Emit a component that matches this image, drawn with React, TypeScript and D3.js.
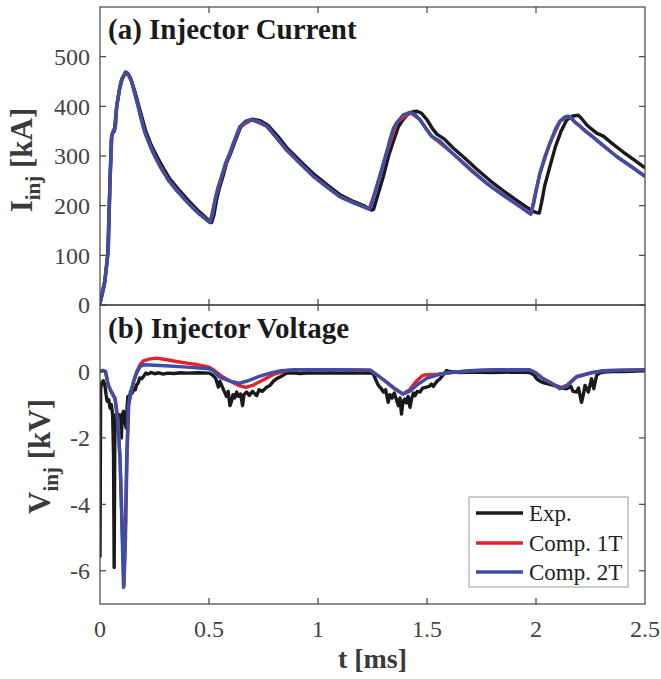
import React from "react";
import * as d3 from "d3";

type P = [number, number];

// ---- Data (t in ms) ----
const xTicks = [0, 0.5, 1, 1.5, 2, 2.5];
const currentTicks = [0, 100, 200, 300, 400, 500];
const voltageTicks = [-6, -4, -2, 0];
const legendLabels = ["Exp.", "Comp. 1T", "Comp. 2T"];
const seriesColors = ["#1a1a1a", "#e8202a", "#3a50a8"];

const expCurrent: P[] = [[0,3],[0.02,40],[0.035,100],[0.045,240],[0.052,335],[0.056,345],[0.066,350],[0.075,395],[0.09,437],[0.1,455],[0.117,469],[0.128,466],[0.14,457],[0.16,430],[0.18,398],[0.195,374],[0.21,350],[0.235,322],[0.26,300],[0.29,276],[0.32,254],[0.36,233],[0.4,213],[0.43,199],[0.46,186],[0.49,174],[0.512,166],[0.522,180],[0.535,212],[0.548,236],[0.565,260],[0.58,285],[0.6,306],[0.62,330],[0.645,358],[0.67,370],[0.7,374],[0.735,371],[0.77,362],[0.815,340],[0.86,315],[0.925,287],[0.985,262],[1.045,241],[1.105,221],[1.165,208],[1.215,199],[1.245,191],[1.255,193],[1.27,215],[1.3,259],[1.325,302],[1.35,335],[1.368,358],[1.385,370],[1.41,383],[1.435,389],[1.455,390],[1.475,386],[1.5,373],[1.525,355],[1.545,344],[1.58,334],[1.62,316],[1.67,297],[1.73,273],[1.79,250],[1.85,230],[1.9,214],[1.95,199],[1.99,188],[2.003,186],[2.015,185],[2.025,205],[2.04,240],[2.064,279],[2.09,320],[2.115,350],[2.14,372],[2.165,380],[2.194,382],[2.21,375],[2.232,363],[2.25,356],[2.278,346],[2.309,340],[2.35,325],[2.4,308],[2.45,292],[2.5,276]];

const comp2Current: P[] = [[0,4],[0.023,50],[0.038,110],[0.046,250],[0.054,340],[0.062,352],[0.07,356],[0.077,400],[0.09,435],[0.1,453],[0.118,468],[0.132,462],[0.145,450],[0.16,425],[0.176,398],[0.19,372],[0.206,347],[0.23,320],[0.252,299],[0.28,275],[0.313,252],[0.35,231],[0.39,212],[0.42,198],[0.451,185],[0.48,175],[0.505,166],[0.515,180],[0.528,212],[0.54,235],[0.558,259],[0.575,285],[0.595,305],[0.615,330],[0.642,359],[0.665,369],[0.696,373],[0.73,369],[0.765,360],[0.81,337],[0.856,312],[0.92,284],[0.979,259],[1.04,238],[1.1,218],[1.16,206],[1.208,198],[1.235,193],[1.245,200],[1.26,225],[1.284,259],[1.31,300],[1.33,333],[1.345,355],[1.361,367],[1.391,383],[1.422,388],[1.445,384],[1.468,373],[1.495,355],[1.521,340],[1.56,330],[1.6,312],[1.651,292],[1.71,268],[1.774,245],[1.835,225],[1.88,212],[1.93,197],[1.976,183],[1.99,205],[2.0,230],[2.018,265],[2.04,298],[2.064,326],[2.09,355],[2.11,370],[2.13,378],[2.148,380],[2.165,376],[2.18,367],[2.202,360],[2.225,350],[2.248,343],[2.3,324],[2.37,299],[2.44,278],[2.5,259]];

// red trace lies beneath the blue one in panel (a)
const comp1Current: P[] = [[0,4],[0.023,50],[0.038,110],[0.046,250],[0.054,340],[0.062,352],[0.07,356],[0.077,400],[0.09,435],[0.1,453],[0.118,468],[0.132,462],[0.145,450],[0.176,398],[0.206,347],[0.252,299],[0.313,252],[0.39,212],[0.451,185],[0.505,166],[0.528,212],[0.558,259],[0.595,305],[0.642,359],[0.696,373],[0.765,360],[0.856,312],[0.979,259],[1.1,218],[1.208,198],[1.235,193],[1.26,225],[1.31,300],[1.361,367],[1.422,388],[1.468,373],[1.521,340],[1.6,312],[1.774,245],[1.976,183],[2.018,265],[2.064,326],[2.11,370],[2.148,380],[2.202,360],[2.248,343],[2.37,299],[2.5,259]];

const expVoltage: P[] = [[0,-5.6],[0.003,-0.5],[0.008,-0.35],[0.015,-0.28],[0.022,-0.4],[0.028,-0.7],[0.033,-0.9],[0.04,-0.85],[0.046,-1.1],[0.052,-1.0],[0.058,-1.3],[0.062,-2.5],[0.065,-5.9],[0.068,-2.0],[0.072,-1.3],[0.078,-1.35],[0.084,-1.5],[0.088,-1.3],[0.094,-1.6],[0.098,-2.0],[0.102,-1.3],[0.108,-1.2],[0.114,-1.5],[0.12,-1.7],[0.124,-1.1],[0.128,-0.75],[0.134,-0.85],[0.14,-0.6],[0.148,-0.65],[0.155,-0.5],[0.162,-0.55],[0.168,-0.4],[0.175,-0.35],[0.182,-0.2],[0.19,-0.22],[0.2,-0.15],[0.21,-0.05],[0.22,-0.08],[0.235,-0.03],[0.25,-0.07],[0.27,-0.04],[0.29,-0.08],[0.31,-0.05],[0.34,-0.06],[0.37,-0.04],[0.4,-0.05],[0.45,-0.04],[0.5,-0.05],[0.515,-0.1],[0.53,-0.2],[0.543,-0.47],[0.55,-0.3],[0.56,-0.45],[0.57,-0.6],[0.58,-0.75],[0.588,-0.6],[0.596,-1.03],[0.603,-0.9],[0.61,-0.7],[0.618,-0.8],[0.627,-0.62],[0.635,-0.75],[0.645,-0.68],[0.654,-1.03],[0.66,-0.7],[0.673,-0.62],[0.685,-0.72],[0.7,-0.6],[0.718,-0.73],[0.73,-0.55],[0.745,-0.6],[0.765,-0.47],[0.78,-0.42],[0.795,-0.3],[0.81,-0.22],[0.83,-0.15],[0.856,-0.05],[0.88,-0.04],[0.92,-0.06],[0.96,-0.04],[1.0,-0.05],[1.05,-0.04],[1.1,-0.05],[1.15,-0.04],[1.2,-0.05],[1.24,-0.04],[1.254,-0.08],[1.265,-0.25],[1.277,-0.42],[1.288,-0.5],[1.3,-0.62],[1.31,-0.55],[1.322,-0.93],[1.33,-0.7],[1.34,-0.8],[1.35,-0.65],[1.36,-0.85],[1.369,-1.03],[1.376,-0.8],[1.383,-1.28],[1.39,-0.9],[1.398,-0.83],[1.405,-0.95],[1.413,-0.75],[1.422,-1.08],[1.43,-0.8],[1.438,-0.65],[1.445,-0.73],[1.455,-0.6],[1.468,-0.62],[1.48,-0.5],[1.498,-0.47],[1.51,-0.45],[1.52,-0.38],[1.529,-0.45],[1.545,-0.3],[1.56,-0.22],[1.575,-0.1],[1.59,0.03],[1.6,0.0],[1.65,-0.03],[1.7,-0.02],[1.8,-0.03],[1.9,-0.02],[1.97,-0.03],[1.99,-0.1],[2.003,-0.22],[2.02,-0.3],[2.04,-0.35],[2.06,-0.38],[2.08,-0.42],[2.1,-0.45],[2.12,-0.5],[2.14,-0.52],[2.16,-0.45],[2.17,-0.6],[2.186,-0.62],[2.195,-0.5],[2.209,-0.93],[2.217,-0.7],[2.225,-0.42],[2.24,-0.62],[2.25,-0.35],[2.255,-0.22],[2.265,-0.52],[2.278,-0.12],[2.29,-0.05],[2.31,-0.02],[2.35,0.0],[2.4,0.0],[2.5,0.02]];

const comp1Voltage: P[] = [[0,0],[0.015,0.03],[0.025,0],[0.038,-0.4],[0.05,-0.58],[0.069,-0.8],[0.082,-1.45],[0.092,-2.6],[0.1,-4.3],[0.11,-6.45],[0.117,-5.0],[0.124,-2.6],[0.132,-1.0],[0.145,-0.55],[0.155,-0.28],[0.17,0.02],[0.185,0.22],[0.2,0.32],[0.23,0.38],[0.26,0.4],[0.3,0.36],[0.35,0.3],[0.4,0.25],[0.45,0.2],[0.5,0.13],[0.52,0.05],[0.56,-0.15],[0.6,-0.3],[0.64,-0.43],[0.67,-0.48],[0.7,-0.42],[0.75,-0.25],[0.8,-0.08],[0.85,0.02],[0.9,0.05],[1.1,0.05],[1.24,0.04],[1.27,-0.1],[1.31,-0.3],[1.35,-0.52],[1.39,-0.68],[1.42,-0.55],[1.45,-0.3],[1.48,-0.12],[1.5,-0.1],[1.55,-0.08],[1.6,-0.04],[1.7,0.02],[1.82,0.05],[1.97,0.05],[2.0,-0.05],[2.033,-0.22],[2.07,-0.35],[2.11,-0.5],[2.14,-0.42],[2.186,-0.15],[2.25,-0.04],[2.31,0.02],[2.4,0.04],[2.5,0.05]];

const comp2Voltage: P[] = [[0,0],[0.015,0.03],[0.025,0],[0.038,-0.42],[0.05,-0.6],[0.069,-0.83],[0.082,-1.5],[0.092,-2.7],[0.1,-4.5],[0.108,-6.5],[0.115,-5.2],[0.122,-2.7],[0.13,-1.03],[0.142,-0.6],[0.153,-0.32],[0.17,-0.02],[0.185,0.15],[0.2,0.2],[0.3,0.17],[0.4,0.13],[0.5,0.08],[0.52,0.02],[0.55,-0.18],[0.6,-0.3],[0.64,-0.35],[0.68,-0.28],[0.73,-0.15],[0.78,-0.05],[0.83,0.02],[0.9,0.05],[1.0,0.05],[1.1,0.05],[1.24,0.04],[1.27,-0.1],[1.31,-0.3],[1.35,-0.5],[1.39,-0.68],[1.42,-0.6],[1.46,-0.38],[1.5,-0.2],[1.55,-0.1],[1.6,-0.04],[1.7,0.02],[1.82,0.05],[1.97,0.05],[2.0,-0.05],[2.033,-0.22],[2.07,-0.35],[2.11,-0.52],[2.14,-0.45],[2.186,-0.17],[2.25,-0.05],[2.31,0.02],[2.4,0.04],[2.5,0.05]];

// ---- Layout ----
const W = 661, H = 679;
const L = 100, R = 645;
const topA = 7, botA = 305, topB = 305, botB = 604;
const FONT = "Liberation Serif, DejaVu Serif, Times New Roman, serif";
const AX = "#444";
const TICK = 6;
const tf = { fontFamily: FONT };

const x = d3.scaleLinear().domain([0, 2.5]).range([L, R]);
const yA = d3.scaleLinear().domain([0, 600]).range([botA, topA]);
const yB = d3.scaleLinear().domain([-7, 2]).range([botB, topB]);

function Panel({ y, yTicks, top, bot, series, id, fmt }: any) {
  const line = d3.line<P>().x(d => x(d[0])).y(d => y(d[1]));
  return (
    <g>
      <defs>
        <clipPath id={id}><rect x={L} y={top} width={R - L} height={bot - top} /></clipPath>
      </defs>
      <g clipPath={`url(#${id})`}>
        {series.map((s: P[], i: number) => (
          <path key={i} d={line(s) || ""} fill="none" stroke={seriesColors[i]} strokeWidth={3.4} strokeLinejoin="round" />
        ))}
      </g>
      <rect x={L} y={top} width={R - L} height={bot - top} fill="none" stroke={AX} strokeWidth={1.2} />
      {xTicks.slice(1, -1).map(t => (
        <g key={t}>
          <line x1={x(t)} x2={x(t)} y1={bot} y2={bot - TICK} stroke={AX} strokeWidth={1.2} />
          <line x1={x(t)} x2={x(t)} y1={top} y2={top + TICK} stroke={AX} strokeWidth={1.2} />
        </g>
      ))}
      {yTicks.map((v: number) => (
        <g key={v}>
          <line x1={L} x2={L + TICK} y1={y(v)} y2={y(v)} stroke={AX} strokeWidth={1.2} />
          <line x1={R} x2={R - TICK} y1={y(v)} y2={y(v)} stroke={AX} strokeWidth={1.2} />
          <text x={90} y={y(v)} dy="0.35em" textAnchor="end" fontSize={24} fill="#444" style={tf}>{fmt(v)}</text>
        </g>
      ))}
    </g>
  );
}

export default function App() {
  const legX = 469, legY = 497, legW = 159, legH = 90;
  const rows = [513, 543, 572];
  return (
    <svg width={W} height={H} style={{ position: "absolute", left: 0, top: 0, background: "#fff", fontFamily: FONT }}>
      <rect width={W} height={H} fill="#fff" />
      <Panel id="cA" y={yA} yTicks={currentTicks} top={topA} bot={botA} series={[expCurrent, comp1Current, comp2Current]} fmt={(v: number) => String(v)} />
      <Panel id="cB" y={yB} yTicks={voltageTicks} top={topB} bot={botB} series={[expVoltage, comp1Voltage, comp2Voltage]} fmt={(v: number) => (v < 0 ? "-" + Math.abs(v) : String(v))} />

      <text x={108} y={39} fontSize={29} fontWeight="bold" fill="#1a1a1a" style={tf}>(a) Injector Current</text>
      <text x={108} y={338} fontSize={29} fontWeight="bold" fill="#1a1a1a" style={tf}>(b) Injector Voltage</text>

      {xTicks.map(t => (
        <text key={t} x={x(t)} y={637} textAnchor="middle" fontSize={24} fill="#444" style={tf}>{String(t)}</text>
      ))}
      <text x={(L + R) / 2} y={668} textAnchor="middle" fontSize={28} fontWeight="bold" fill="#3a3a3a" style={tf}>t [ms]</text>

      <text transform={`translate(32, ${(topA + botA) / 2 + 4}) rotate(-90)`} textAnchor="middle" fontSize={31} fontWeight="bold" fill="#3a3a3a" style={tf}>
        I<tspan fontSize={21} dy={8}>inj</tspan><tspan dy={-8}> [kA]</tspan>
      </text>
      <text transform={`translate(50, ${(topB + botB) / 2 + 2}) rotate(-90)`} textAnchor="middle" fontSize={31} fontWeight="bold" fill="#3a3a3a" style={tf}>
        V<tspan fontSize={21} dy={8}>inj</tspan><tspan dy={-8}> [kV]</tspan>
      </text>

      <g>
        <rect x={legX} y={legY} width={legW} height={legH} fill="#fff" stroke="#999" strokeWidth={1} />
        {legendLabels.map((lab, i) => (
          <g key={lab}>
            <line x1={476} x2={523} y1={rows[i]} y2={rows[i]} stroke={seriesColors[i]} strokeWidth={3.4} />
            <text x={529} y={rows[i]} dy="0.35em" fontSize={23} fill="#222" style={tf}>{lab}</text>
          </g>
        ))}
      </g>
    </svg>
  );
}
